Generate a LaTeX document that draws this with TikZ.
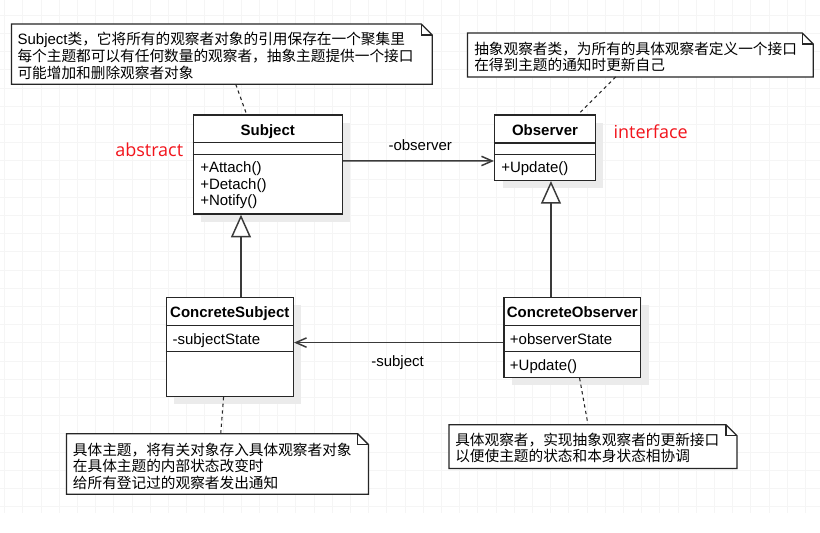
\documentclass[tikz,border=0pt]{standalone}
\usepackage{fontspec}
\setmainfont{Liberation Sans}
\newfontfamily\cjk{Noto Sans CJK SC}
\newfontfamily\tagfont{Open Sans}
\usetikzlibrary{arrows.meta,calc,fit,shadows}
\definecolor{gridgray}{HTML}{F5F5F5}
\definecolor{shadowgray}{HTML}{EBEBEB}
\definecolor{boxline}{HTML}{262626}
\definecolor{linkgray}{HTML}{3A3A3A}
\definecolor{tagred}{HTML}{F2141C}
\newcommand\dogear[1]{%
  \draw[noteline, fill=white] (#1.north west) -- ($(#1.north east)+(-11,0)$) -- ($(#1.north east)+(0,11)$) -- (#1.south east) -- (#1.south west) -- cycle;
  \draw[noteline] ($(#1.north east)+(-11,0)$) |- ($(#1.north east)+(0,11)$);}
\tikzset{
  gridline/.style={draw=gridgray, line width=0.7pt},
  classbox/.style={draw=boxline, line width=1.1pt, inner sep=0pt, fill=white,
    drop shadow={shadow xshift=6pt, shadow yshift=-6pt, fill=shadowgray, opacity=1}},
  classline/.style={draw=boxline, line width=1.1pt},
  classname/.style={font=\fontsize{11.25}{12.4}\selectfont\bfseries, inner sep=0pt, anchor=base},
  member/.style={inner sep=0pt, anchor=base west, text width=130pt, align=left},
  notearea/.style={inner sep=0pt},
  noteline/.style={draw=boxline, line width=1pt},
  notetext/.style={font=\cjk\fontsize{11}{12.5}\selectfont, inner sep=0pt, anchor=base west, text width=330pt, align=left},
  notelink/.style={draw=boxline, line width=0.8pt, dash pattern=on 2.5pt off 2.5pt},
  assoc/.style={draw=linkgray, line width=1.1pt, -{Straight Barb[length=8pt,width=7pt]}},
  inherit/.style={draw=linkgray, line width=1.1pt, -{Triangle[length=17pt,width=15pt,fill=white]}},
  rolelabel/.style={inner sep=0pt, anchor=base west},
  tag/.style={font=\tagfont\fontsize{13.5}{16}\selectfont, text=tagred, inner sep=0pt, anchor=base west}
}
\begin{document}
\begin{tikzpicture}[x=0.75pt, y=-0.75pt, font=\fontsize{11.25}{12.4}\selectfont]
\useasboundingbox (0,0) rectangle (820,532);
\fill[white] (0,0) rectangle (820,532);
\foreach \k in {0,...,44} \draw[gridline] ({4.7+18.2*\k},0) -- ({4.7+18.2*\k},513);
\foreach \k in {0,...,27} \draw[gridline] (0,{15.3+18.2*\k}) -- (820,{15.3+18.2*\k});

\node[classbox, fit={(193.3,115) (342.3,214)}] (subject) {};
\node[classbox, fit={(494.7,115) (595.3,180.3)}] (observer) {};
\node[classbox, fit={(166.3,297.3) (293.3,396.3)}] (csubject) {};
\node[classbox, fit={(504,297.3) (640.7,377.3)}] (cobserver) {};
\foreach \n/\a/\b in {subject/28.3/40.3, observer/28.9/40.3, csubject/28.7/54.7, cobserver/28.7/54.7}
  \draw[classline] ($(\n.north west)+(0,\a)$) -- ($(\n.north east)+(0,\a)$)
    ($(\n.north west)+(0,\b)$) -- ($(\n.north east)+(0,\b)$);

\node[classname] (subjectname) at (267.8,135.4) {Subject};
\node[classname] (observername) at (545,135.4) {Observer};
\node[classname] (csubjectname) at (229.8,317.7) {ConcreteSubject};
\node[classname] (cobservername) at (572.3,317.7) {ConcreteObserver};
\node[member] (subjectops) at (200,172.9) {+Attach()\\+Detach()\\+Notify()};
\node[member] (observerops) at (501,172.9) {+Update()};
\node[member] (csubjectstate) at (172.3,344.3) {-subjectState};
\node[member] (cobserverstate) at (509.7,344.3) {+observerState};
\node[member] (cobserverops) at (509.7,370) {+Update()};

\draw[assoc] ($(subject.north east)+(0,46.7)$) -- ($(observer.north west)+(0,46.7)$);
\draw[assoc] ($(cobserver.north west)+(0,46)$) -- ($(csubject.north east)+(0,46)$);
\draw[inherit] ($(csubject.north west)+(75.4,0)$) -- ($(subject.south west)+(48.4,0)$);
\draw[inherit] ($(cobserver.north west)+(47.7,0)$) -- ($(observer.south west)+(57,0)$);
\node[rolelabel] (observerrole) at (388.3,150.7) {-observer};
\node[rolelabel] (subjectrole) at (371,366.7) {-subject};

\node[tag] (abstracttag) at (115,156.7) {abstract};
\node[tag] (interfacetag) at (613.3,138.3) {interface};

\node[notearea, fit={(11.7,24.3) (432,84)}] (subjnote) {};
\node[notearea, fit={(467.7,33.3) (813,76.7)}] (obsnote) {};
\node[notearea, fit={(66.7,434) (368.3,494)}] (csubjnote) {};
\node[notearea, fit={(449.3,425) (736.7,468.3)}] (cobsnote) {};
\dogear{subjnote}
\dogear{obsnote}
\dogear{csubjnote}
\dogear{cobsnote}
\node[notetext] (subjnotetext) at (17.3,44.8) {{\rmfamily\fontsize{11.25}{12.5}\selectfont Subject}类，它将所有的观察者对象的引用保存在一个聚集里\\每个主题都可以有任何数量的观察者，抽象主题提供一个接口\\可能增加和删除观察者对象};
\node[notetext] (obsnotetext) at (474,54.2) {抽象观察者类，为所有的具体观察者定义一个接口\\在得到主题的通知时更新自己};
\node[notetext] (csubjnotetext) at (72.7,455.2) {具体主题，将有关对象存入具体观察者对象\\在具体主题的内部状态改变时\\给所有登记过的观察者发出通知};
\node[notetext] (cobsnotetext) at (455,445.2) {具体观察者，实现抽象观察者的更新接口\\以便使主题的状态和本身状态相协调};

\draw[notelink] ($(subjnote.south west)+(224.3,0)$) -- ($(subject.north west)+(54,0)$);
\draw[notelink] ($(obsnote.south west)+(148.3,0)$) -- ($(observer.north west)+(84.3,0)$);
\draw[notelink] ($(csubject.south west)+(58,0)$) -- ($(csubjnote.north west)+(154.3,0)$);
\draw[notelink] ($(cobserver.south west)+(76.3,0)$) -- ($(cobsnote.north west)+(139,0)$);
\end{tikzpicture}
\end{document}
